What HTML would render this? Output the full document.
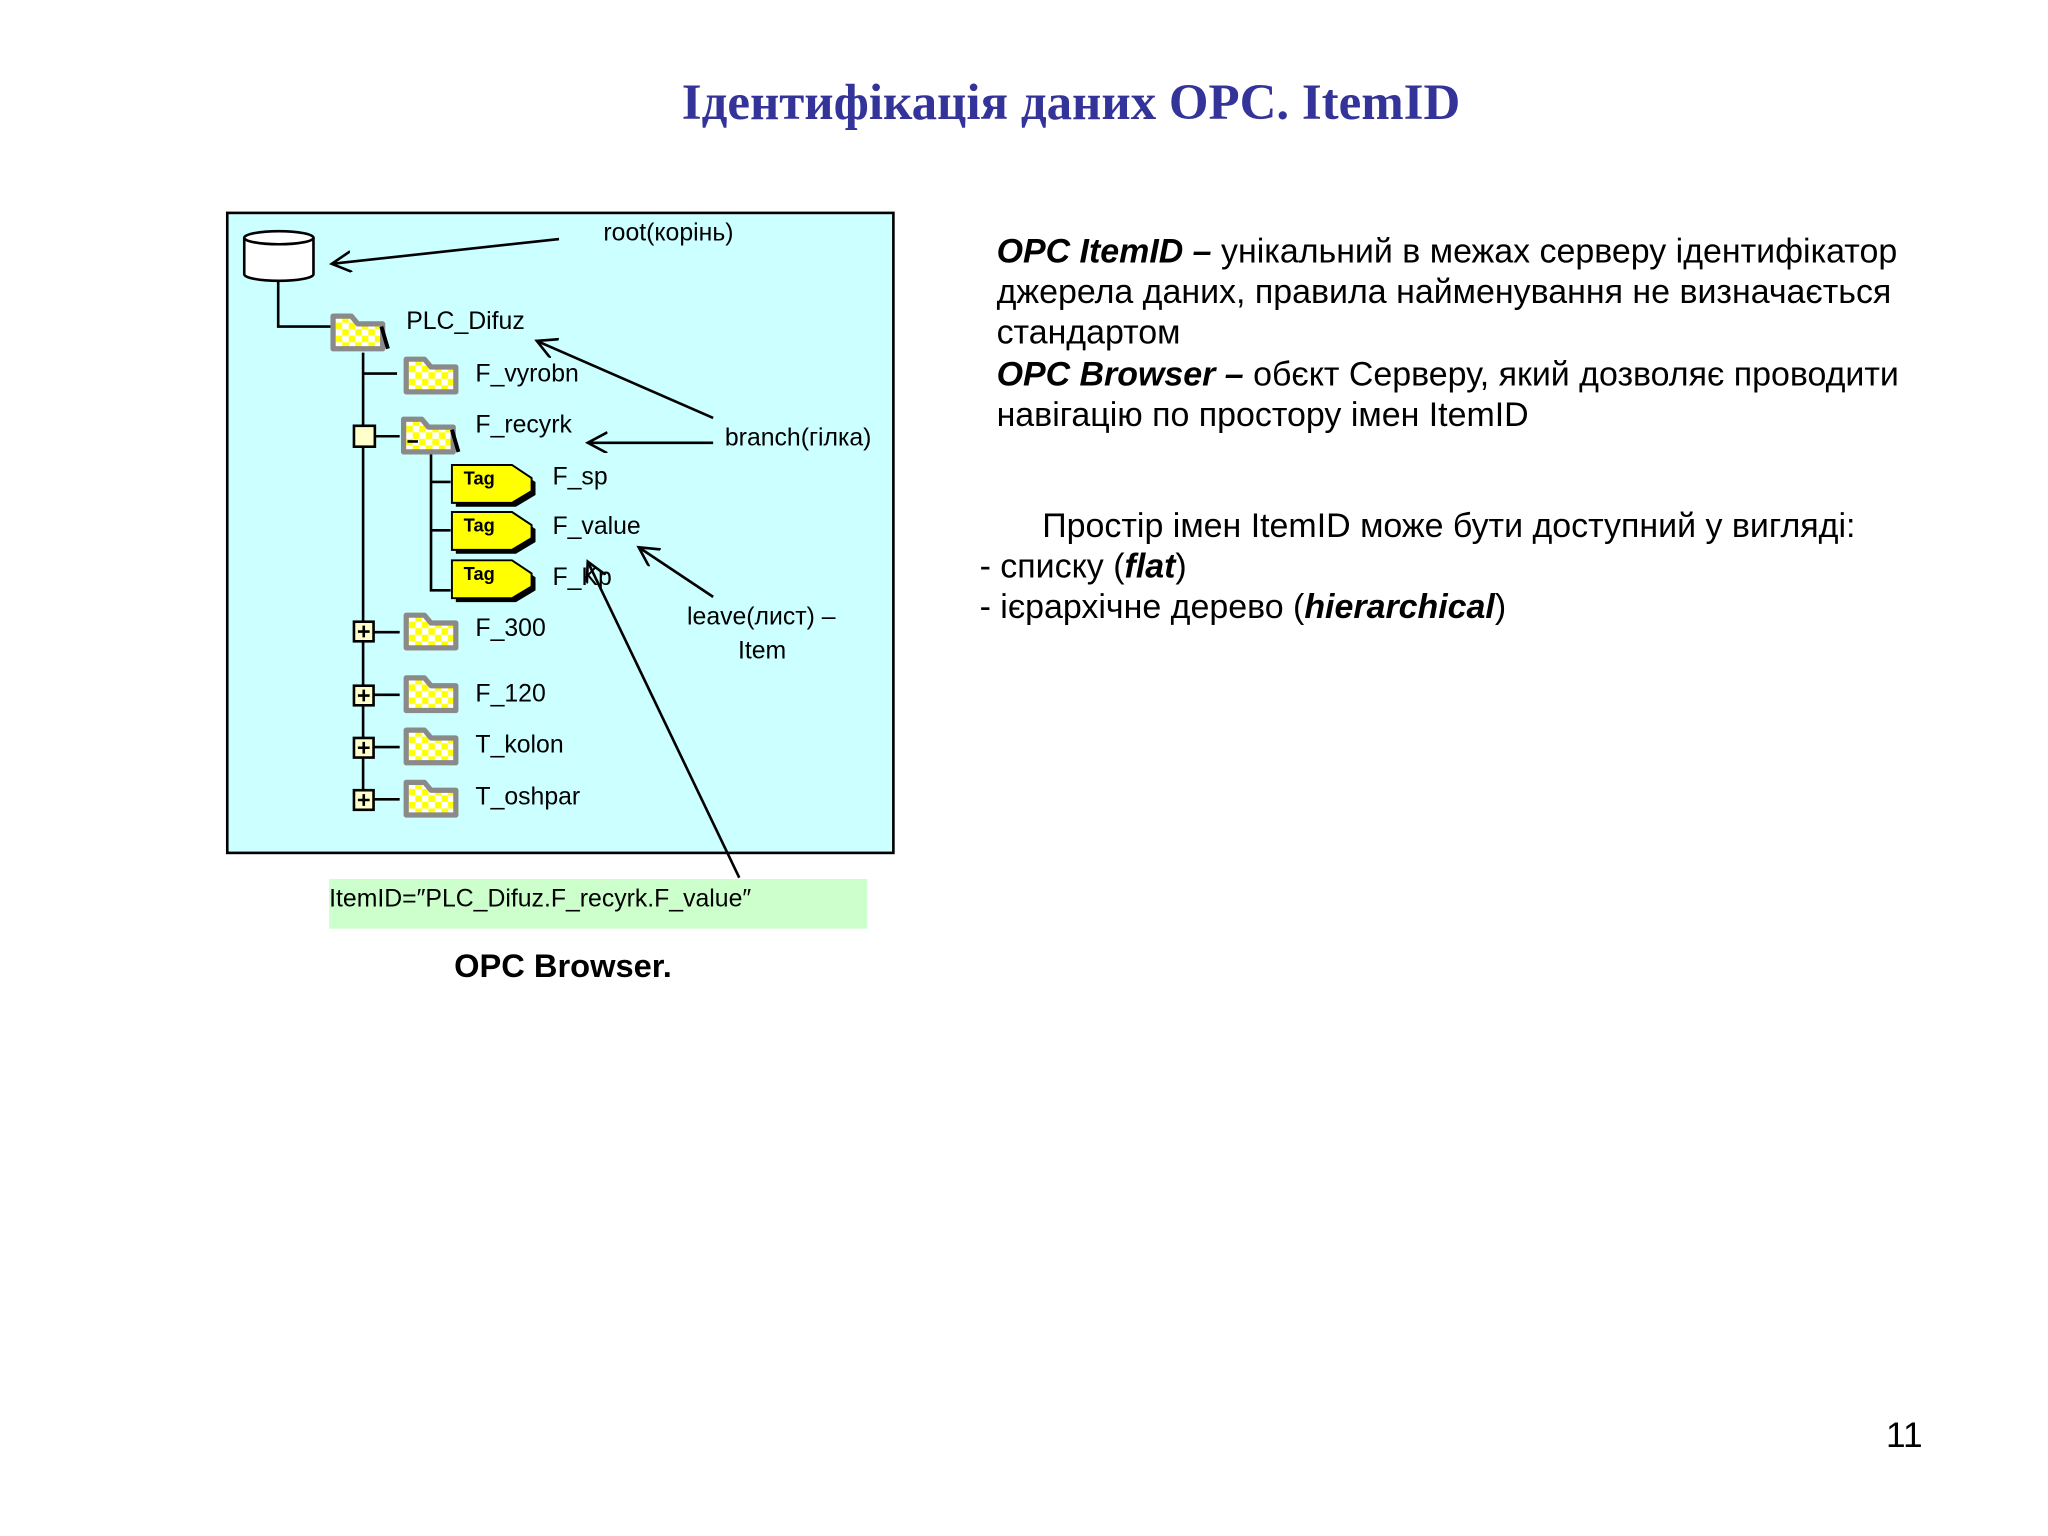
<!DOCTYPE html>
<html><head><meta charset="utf-8"><style>
html,body{margin:0;padding:0;background:#fff;}
svg{display:block;}
.t{font-family:"Liberation Sans","Noto Sans CJK JP",sans-serif;font-size:19px;fill:#000;}
.r{font-family:"Liberation Sans",sans-serif;font-size:26px;fill:#000;}
</style></head><body>
<svg width="2048" height="1536" viewBox="0 0 1568 1176" xmlns="http://www.w3.org/2000/svg">
<defs>
<pattern id="ck" width="10" height="10" patternUnits="userSpaceOnUse">
<rect width="10" height="10" fill="#ffff00"/><rect width="5" height="5" fill="#fff"/><rect x="5" y="5" width="5" height="5" fill="#fff"/>
</pattern>
<g id="fold"><path d="M3,5 h14 l5,6 h19 v19 h-38 z" fill="url(#ck)" stroke="#8a8a8a" stroke-width="4" stroke-linejoin="round"/></g>
<g id="ofold"><path d="M3,5 h14 l5,6 h19 v19 h-38 z" fill="url(#ck)" stroke="#8a8a8a" stroke-width="4" stroke-linejoin="round"/><line x1="40" y1="13" x2="45" y2="30" stroke="#000" stroke-width="3"/></g>
<g id="tag"><path d="M3,3 h46 l15,10 v10 l-15,9 h-46 z" fill="#000"/><path d="M0,0 h46 l15,10 v10 l-15,9 h-46 z" fill="#ffff00" stroke="#000" stroke-width="1.5"/><text x="9" y="15" font-family="Liberation Sans,sans-serif" font-weight="bold" font-size="14">Tag</text></g>
<g id="plus"><rect x="0" y="0" width="15" height="15" fill="#ffffcc" stroke="#000" stroke-width="2"/><path d="M7.5,3 v9 M3,7.5 h9" stroke="#000" stroke-width="2"/></g>
<marker id="ah" markerWidth="20" markerHeight="20" refX="15" refY="8" orient="auto" markerUnits="userSpaceOnUse"><path d="M0,0 L15,8 L0,16" fill="none" stroke="#000" stroke-width="2"/></marker>
</defs>

<text x="820" y="91" text-anchor="middle" font-family="Liberation Serif,serif" font-weight="bold" font-size="39" fill="#333399">Ідентифікація даних OPC. ItemID</text>

<rect x="174" y="163" width="510" height="490" fill="#ccffff" stroke="#000" stroke-width="2"/>

<path d="M187,182 v28 a26.5,5 0 0 0 53,0 v-28" fill="#fff" stroke="#000" stroke-width="2"/>
<ellipse cx="213.5" cy="182" rx="26.5" ry="5" fill="#fff" stroke="#000" stroke-width="2"/>
<path d="M213,215 v35 h40" fill="none" stroke="#000" stroke-width="2"/>

<line x1="278" y1="270" x2="278" y2="612" stroke="#000" stroke-width="2"/>
<path d="M278,286 h26 M286,334 h20 M286,484 h20 M286,532 h20 M286,572 h20 M286,612 h20" stroke="#000" stroke-width="2"/>
<path d="M330,345 v107 h15 M330,369 h15 M330,406 h15" fill="none" stroke="#000" stroke-width="2"/>

<use href="#ofold" x="252" y="237"/>
<use href="#fold" x="308" y="270"/>
<use href="#ofold" x="306" y="316"/>
<rect x="271" y="326" width="16" height="16" fill="#ffffcc" stroke="#000" stroke-width="2"/>
<line x1="312" y1="338" x2="320" y2="338" stroke="#000" stroke-width="2"/>
<use href="#tag" x="346" y="356"/>
<use href="#tag" x="346" y="392"/>
<use href="#tag" x="346" y="429"/>
<use href="#fold" x="308" y="466"/>
<use href="#fold" x="308" y="514"/>
<use href="#fold" x="308" y="554"/>
<use href="#fold" x="308" y="594"/>
<use href="#plus" x="271" y="476"/>
<use href="#plus" x="271" y="525"/>
<use href="#plus" x="271" y="565"/>
<use href="#plus" x="271" y="605"/>

<text class="t" x="311" y="252">PLC_Difuz</text>
<text class="t" x="364" y="292">F_vyrobn</text>
<text class="t" x="364" y="331">F_recyrk</text>
<text class="t" x="423" y="371">F_sp</text>
<text class="t" x="423" y="409">F_value</text>
<text class="t" x="423" y="448">F_Kp</text>
<text class="t" x="364" y="487">F_300</text>
<text class="t" x="364" y="537">F_120</text>
<text class="t" x="364" y="576">T_kolon</text>
<text class="t" x="364" y="616">T_oshpar</text>

<text class="t" x="462" y="184">root(корінь)</text>
<text class="t" x="555" y="341">branch(гілка)</text>
<text class="t" x="526" y="478">leave(лист) –</text>
<text class="t" x="565" y="504">Item</text>

<g stroke="#000" stroke-width="2" fill="none">
<line x1="428" y1="183" x2="254" y2="202" marker-end="url(#ah)"/>
<line x1="546" y1="320" x2="411" y2="261" marker-end="url(#ah)"/>
<line x1="546" y1="339" x2="450" y2="339" marker-end="url(#ah)"/>
<line x1="546" y1="457" x2="489" y2="419" marker-end="url(#ah)"/>
<line x1="566" y1="672" x2="450" y2="430" marker-end="url(#ah)"/>
</g>

<rect x="252" y="673" width="412" height="38" fill="#ccffcc"/>
<text class="t" x="252" y="694">ItemID=″PLC_Difuz.F_recyrk.F_value″</text>

<text x="431" y="748" text-anchor="middle" font-family="Liberation Sans,sans-serif" font-weight="bold" font-size="25">OPC Browser.</text>

<text class="r" x="763" y="201"><tspan font-weight="bold" font-style="italic">OPC ItemID –</tspan> унікальний в межах серверу ідентифікатор</text>
<text class="r" x="763" y="232">джерела даних, правила найменування не визначається</text>
<text class="r" x="763" y="263">стандартом</text>
<text class="r" x="763" y="295"><tspan font-weight="bold" font-style="italic">OPC Browser –</tspan> обєкт Серверу, який дозволяє проводити</text>
<text class="r" x="763" y="326">навігацію по простору імен ItemID</text>
<text class="r" x="798" y="411">Простір імен ItemID може бути доступний у вигляді:</text>
<text class="r" x="750" y="442">- списку (<tspan font-weight="bold" font-style="italic">flat</tspan>)</text>
<text class="r" x="750" y="473">- ієрархічне дерево (<tspan font-weight="bold" font-style="italic">hierarchical</tspan>)</text>

<text x="1458" y="1108" text-anchor="middle" font-family="Liberation Sans,sans-serif" font-size="27">11</text>
</svg>
</body></html>
